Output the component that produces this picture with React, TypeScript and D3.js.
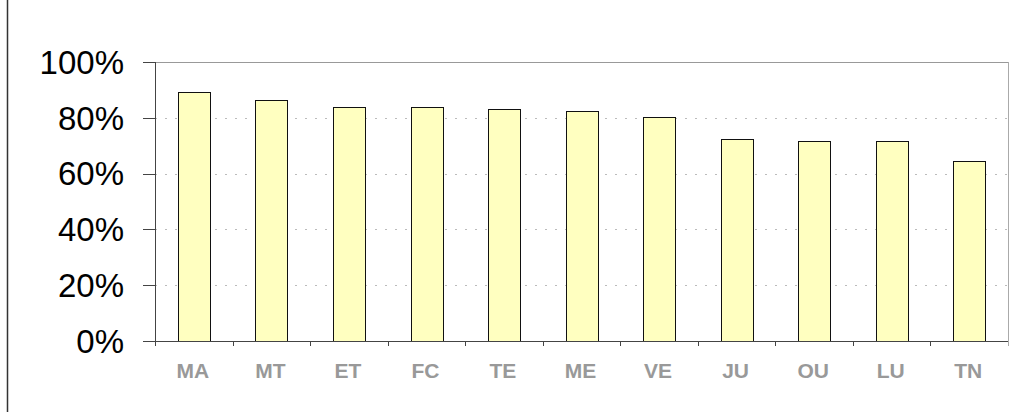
import * as d3 from 'd3'

const categories = ['MA', 'MT', 'ET', 'FC', 'TE', 'ME', 'VE', 'JU', 'OU', 'LU', 'TN']
const values = [89.1, 86.4, 83.8, 83.8, 83.1, 82.4, 80.2, 72.3, 71.6, 71.6, 64.4]
const yTicks = [0, 20, 40, 60, 80, 100]

export default function App() {
  const width = 1013
  const height = 412
  const left = 155
  const right = 1008
  const top = 62
  const bottom = 341

  const x = d3.scaleBand<string>().domain(categories).range([left, right]).padding(0)
  const y = d3.scaleLinear().domain([0, 100]).range([bottom, top])
  const barW = x.bandwidth() * 0.41
  const font = 'Arial, "Liberation Sans", sans-serif'

  return (
    <svg
      width={width}
      height={height}
      style={{ position: 'absolute', left: 0, top: 0, background: '#fff' }}
    >
      {/* outer frame edge */}
      <line x1={7.5} x2={7.5} y1={0} y2={height} stroke="#333" strokeWidth={1.5} />

      {/* gridlines */}
      {yTicks.slice(1, -1).map(t => (
        <line
          key={t}
          x1={left}
          x2={right}
          y1={Math.round(y(t)) + 0.5}
          y2={Math.round(y(t)) + 0.5}
          stroke="#bbb"
          strokeDasharray="2,8"
        />
      ))}

      {/* plot border top/right */}
      <line x1={left} x2={right} y1={top + 0.5} y2={top + 0.5} stroke="#999" />
      <line x1={right + 0.5} x2={right + 0.5} y1={top} y2={bottom + 5} stroke="#aaa" />

      {/* bars */}
      {categories.map((c, i) => {
        const cx = x(c)! + x.bandwidth() / 2
        return (
          <rect
            key={c}
            x={Math.round(cx - barW / 2) + 0.5}
            y={Math.round(y(values[i])) + 0.5}
            width={Math.round(barW)}
            height={Math.round(bottom - y(values[i]))}
            fill="#FFFFC0"
            stroke="#111"
            strokeWidth={1}
          />
        )
      })}

      {/* y axis */}
      <line x1={left + 0.5} x2={left + 0.5} y1={top} y2={bottom + 5} stroke="#444" />
      {yTicks.map(t => (
        <g key={t}>
          <line
            x1={143}
            x2={left}
            y1={Math.round(y(t)) + 0.5}
            y2={Math.round(y(t)) + 0.5}
            stroke="#444"
          />
          <text
            x={124}
            y={y(t)}
            dy="0.36em"
            textAnchor="end"
            fontFamily={font}
            fontSize={33}
            fill="#000"
          >
            {t}%
          </text>
        </g>
      ))}

      {/* x axis */}
      <line x1={143} x2={right} y1={bottom + 0.5} y2={bottom + 0.5} stroke="#444" />
      {categories.slice(0, -1).map(c => (
        <line
          key={'t' + c}
          x1={Math.round(x(c)! + x.bandwidth()) + 0.5}
          x2={Math.round(x(c)! + x.bandwidth()) + 0.5}
          y1={bottom}
          y2={bottom + 5}
          stroke="#444"
        />
      ))}
      {categories.map(c => (
        <text
          key={'l' + c}
          x={x(c)! + x.bandwidth() / 2 - 1}
          y={378}
          textAnchor="middle"
          fontFamily={font}
          fontSize={21}
          fontWeight="bold"
          fill="#999"
        >
          {c}
        </text>
      ))}
    </svg>
  )
}
